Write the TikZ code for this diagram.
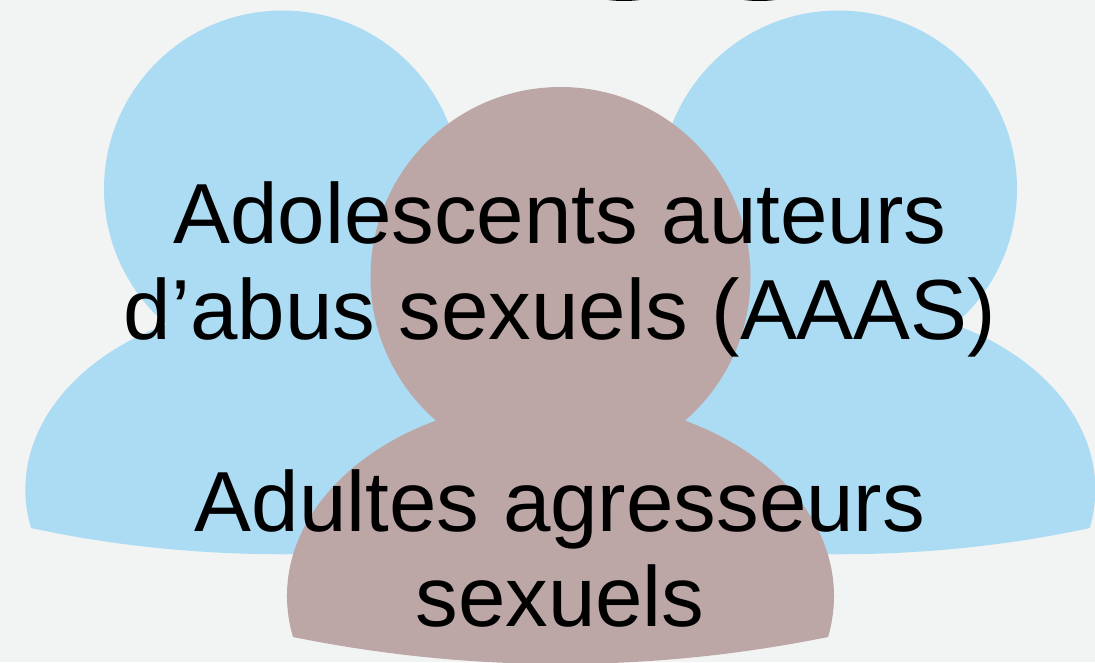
\documentclass[tikz,border=0pt]{standalone}
\usepackage{fontspec}
\setmainfont{Liberation Sans}
\definecolor{bg}{HTML}{F2F4F4}
\definecolor{blu}{HTML}{ABDCF3}
\definecolor{bro}{HTML}{BCA7A6}
\tikzset{x=1pt,y=-1pt,
 lab/.style={font=\fontsize{85.3}{98}\selectfont,text=black,inner sep=0pt,anchor=base}}
\newcommand{\person}[3]{%
 \fill[#3] (#1,#2) circle[radius=178.5];
 \fill[#3] (#1-251.5,#2+339) arc[start angle=168,end angle=372,x radius=257,y radius=185]
   .. controls (#1+90,#2+374) and (#1-90,#2+374) .. (#1-251.5,#2+339) -- cycle;}
\begin{document}
\begin{tikzpicture}
\useasboundingbox (0,0) rectangle (1095,662);
\fill[bg] (0,0) rectangle (1095,662);
\begin{scope}
\clip (0,0) rectangle (1095,662);
\fill[black] (624,-9) ellipse[x radius=36,y radius=10];
\fill[black] (759.5,-9) ellipse[x radius=36,y radius=10];
\person{282.5}{189}{blu}
\person{838.5}{189}{blu}
\fill[bro] (293,637) arc[start angle=168,end angle=372,x radius=273.5,y radius=197]
  .. controls (650,673) and (471,673) .. (293,637) -- cycle;
\fill[bro] (560.5,277) circle[radius=190];
\end{scope}
\node[lab] (t1) at (560,243) {Adolescents auteurs};
\node[lab] (t2) at (560,339) {d’abus sexuels (AAAS)};
\node[lab] (t3) at (560,531) {Adultes agresseurs};
\node[lab] (t4) at (560,626) {sexuels};
\end{tikzpicture}
\end{document}
